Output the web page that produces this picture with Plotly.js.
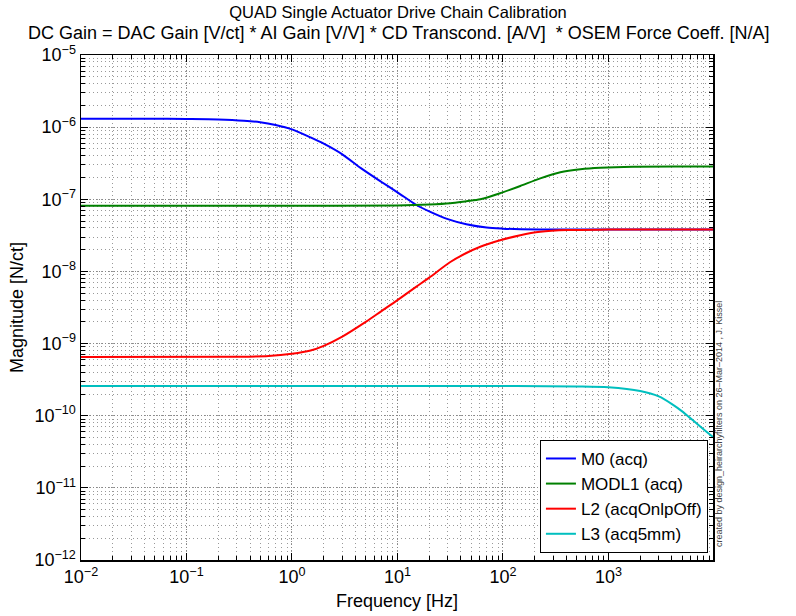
<!DOCTYPE html>
<html>
<head>
<meta charset="utf-8">
<script src="https://cdn.plot.ly/plotly-3.0.1.min.js"></script>
<style>html,body{margin:0;padding:0;background:#fff;}#chart{width:796px;height:616px;}</style>
</head>
<body>
<div id="chart"></div>
<script>
// ---- data ----
const m0Freq = [0.01, 0.05, 0.1, 0.2, 0.35, 0.5, 0.7, 1, 1.5, 2, 3, 4.5, 7, 10, 15, 20, 30, 45, 70, 100, 150, 300, 1000, 9800];
const m0Mag  = [1.31e-6, 1.31e-6, 1.30e-6, 1.28e-6, 1.23e-6, 1.17e-6, 1.07e-6, 9.3e-7, 7.2e-7, 5.9e-7, 4.2e-7, 2.7e-7, 1.75e-7, 1.25e-7, 8.4e-8, 6.8e-8, 5.3e-8, 4.5e-8, 4.05e-8, 3.92e-8, 3.85e-8, 3.8e-8, 3.8e-8, 3.8e-8];

const modl1Freq = [0.01, 1, 10, 20, 31.7, 45, 61, 94, 146, 226, 350, 542, 839, 1726, 9800];
const modl1Mag  = [8.15e-8, 8.15e-8, 8.2e-8, 8.45e-8, 8.8e-8, 9.4e-8, 1.0e-7, 1.21e-7, 1.53e-7, 1.95e-7, 2.37e-7, 2.61e-7, 2.74e-7, 2.83e-7, 2.84e-7];

const l2Freq = [0.01, 0.3, 0.6, 1, 1.5, 2, 3, 5, 7, 10, 15, 20, 31.7, 45, 61, 94, 146, 226, 410, 1000, 9800];
const l2Mag  = [6.5e-10, 6.55e-10, 6.7e-10, 7.2e-10, 8.0e-10, 9.3e-10, 1.25e-9, 2.0e-9, 2.8e-9, 4.0e-9, 6.1e-9, 8.2e-9, 1.35e-8, 1.8e-8, 2.2e-8, 2.7e-8, 3.18e-8, 3.55e-8, 3.75e-8, 3.8e-8, 3.8e-8];

const l3Freq = [0.01, 100, 500, 1000, 2000, 3000, 4000, 5000, 6000, 7000, 8500, 9800];
const l3Mag  = [2.58e-10, 2.58e-10, 2.55e-10, 2.48e-10, 2.2e-10, 1.85e-10, 1.45e-10, 1.15e-10, 9.2e-11, 7.6e-11, 6.0e-11, 5.07e-11];

const seriesNames = ['M0 (acq)', 'MODL1 (acq)', 'L2 (acqOnlpOff)', 'L3 (acq5mm)'];

const xTickVals = [0.01, 0.1, 1, 10, 100, 1000];
const xTickText = ['10<sup>\u22122</sup>', '10<sup>\u22121</sup>', '10<sup>0</sup>', '10<sup>1</sup>', '10<sup>2</sup>', '10<sup>3</sup>'];
const yTickVals = [1e-12, 1e-11, 1e-10, 1e-9, 1e-8, 1e-7, 1e-6, 1e-5];
const yTickText = ['10<sup>\u221212</sup>', '10<sup>\u221211</sup>', '10<sup>\u221210</sup>', '10<sup>\u22129</sup>', '10<sup>\u22128</sup>', '10<sup>\u22127</sup>', '10<sup>\u22126</sup>', '10<sup>\u22125</sup>'];

const titleLine1 = 'QUAD Single Actuator Drive Chain Calibration';
const titleLine2 = 'DC Gain = DAC Gain [V/ct] * AI Gain [V/V] * CD Transcond. [A/V]  * OSEM Force Coeff. [N/A]';
const creditText = 'created by design_heirarchyfilters on 26\u2013Mar\u20132014 , J. Kissel';

// ---- chart ----
const colors = ['#0000ff', '#008000', '#ff0000', '#00bfbf'];
const xs = [m0Freq, modl1Freq, l2Freq, l3Freq];
const ys = [m0Mag, modl1Mag, l2Mag, l3Mag];
const traces = xs.map((x, i) => ({
  x: x, y: ys[i], type: 'scatter', mode: 'lines', name: seriesNames[i],
  line: {color: colors[i], width: 2, shape: 'spline', smoothing: 0.8}
}));

const FONT = 'Liberation Sans, Arial, Helvetica, sans-serif';
const axisCommon = {
  type: 'log', showline: true, linecolor: '#000', linewidth: 1.5, mirror: 'ticks',
  ticks: 'inside', ticklen: 7, tickwidth: 1, tickcolor: '#000',
  showgrid: true, gridcolor: '#888', griddash: '1px,2px', gridwidth: 1,
  zeroline: false, tickmode: 'array',
  tickfont: {family: FONT, size: 18, color: '#000'},
  minor: {dtick: 'D1', ticks: 'inside', ticklen: 4, tickcolor: '#000', showgrid: true, gridcolor: '#999', griddash: '1px,3px', gridwidth: 1},
  automargin: false
};

const layout = {
  width: 796, height: 616,
  margin: {l: 81, r: 83, t: 55, b: 56, pad: 0},
  paper_bgcolor: '#fff', plot_bgcolor: '#fff',
  font: {family: FONT, color: '#000'},
  title: {
    text: titleLine1,
    font: {family: FONT, size: 16.5, color: '#000'},
    x: 0.5, xref: 'container', xanchor: 'center', y: 1 - 12 / 616, yref: 'container', yanchor: 'middle'
  },
  xaxis: Object.assign({}, axisCommon, {
    range: [-2, Math.log10(9800)],
    tickvals: xTickVals, ticktext: xTickText,
    title: {text: 'Frequency [Hz]', font: {family: FONT, size: 18}, standoff: 8}
  }),
  yaxis: Object.assign({}, axisCommon, {
    range: [-12, -5],
    tickvals: yTickVals, ticktext: yTickText,
    title: {text: 'Magnitude [N/ct]', font: {family: FONT, size: 18}, standoff: 6}
  }),
  legend: {
    x: 0.992, xanchor: 'right', y: 0.014, yanchor: 'bottom',
    bgcolor: '#fff', bordercolor: '#000', borderwidth: 1,
    font: {family: FONT, size: 17, color: '#000'},
    itemwidth: 30, tracegroupgap: 0
  },
  showlegend: true,
  annotations: [{
    text: titleLine2,
    xref: 'paper', yref: 'paper', x: (398 - 81) / 632, y: (560 - 33) / 505,
    xanchor: 'center', yanchor: 'middle', showarrow: false,
    font: {family: FONT, size: 18, color: '#000'}
  }, {
    text: creditText,
    xref: 'paper', yref: 'paper', x: (719 - 81) / 632, y: (560 - 549) / 505,
    xanchor: 'center', yanchor: 'bottom', textangle: -90, showarrow: false,
    font: {family: FONT, size: 9, color: '#444'}
  }]
};

Plotly.newPlot('chart', traces, layout, {displayModeBar: false, staticPlot: true});
</script>
</body>
</html>
